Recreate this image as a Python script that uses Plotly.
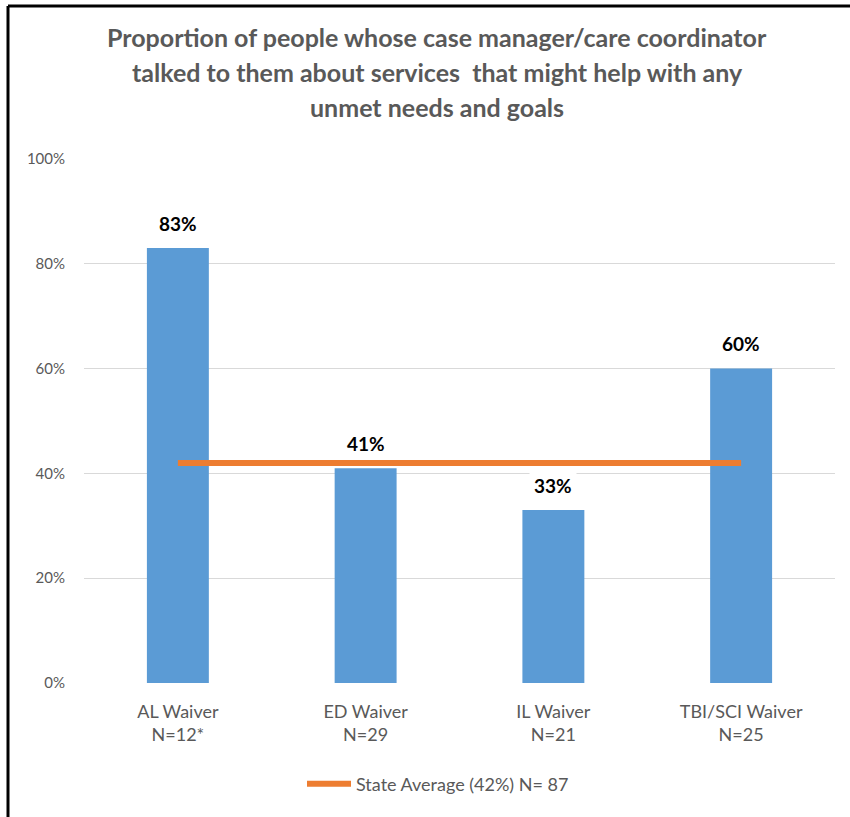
import plotly.graph_objects as go

# Waiver programs and survey results
categories = ["AL Waiver<br>N=12*", "ED Waiver<br>N=29", "IL Waiver<br>N=21", "TBI/SCI Waiver<br>N=25"]
values = [83, 41, 33, 60]
state_avg = 42
state_avg_label = "State Average (42%) N= 87"
y_ticks = [0, 20, 40, 60, 80, 100]
y_tick_labels = ["0%", "20%", "40%", "60%", "80%", "100%"]

title_lines = [
    "Proportion of people whose case manager/care coordinator",
    "talked to them about services  that might help with any",
    "unmet needs and goals",
]

W, H = 850, 817
ML, MR, MT, MB = 84, 15, 159, 134
pw, ph = W - ML - MR, H - MT - MB

fig = go.Figure()

fig.add_trace(go.Bar(
    x=categories, y=values,
    marker=dict(color="#5B9BD5", line=dict(width=0)),
    showlegend=False, hoverinfo="x+y",
))

fig.add_trace(go.Scatter(
    x=categories, y=[state_avg] * len(categories),
    mode="lines", name=state_avg_label,
    line=dict(color="#ED7D31", width=6),
))

# value labels above each bar, on a white box
for c, v in zip(categories, values):
    fig.add_annotation(
        x=c, y=v, text=f"<b>{v}%</b>", showarrow=False,
        yanchor="middle", yshift=25,
        font=dict(family="Lato", size=19, color="#000000"),
        bgcolor="#FFFFFF", borderpad=4,
    )

# chart title, one line per annotation
for i, line in enumerate(title_lines):
    fig.add_annotation(
        xref="paper", yref="paper",
        x=(437 - ML) / pw, y=1 + (MT - (37 + 35 * i)) / ph,
        text=f"<b>{line}</b>", showarrow=False,
        xanchor="center", yanchor="middle",
        font=dict(family="Lato", size=25, color="#595959"),
    )

# frame along top and left edges
x_left = (8 - ML) / pw
x_right = (W + 5 - ML) / pw
y_top = 1 + (MT - 6) / ph
y_bot = -(MB + 10) / ph
fig.add_shape(type="line", xref="paper", yref="paper",
              x0=x_left, x1=x_right, y0=y_top, y1=y_top,
              line=dict(color="#000000", width=3))
fig.add_shape(type="line", xref="paper", yref="paper",
              x0=x_left, x1=x_left, y0=y_top, y1=y_bot,
              line=dict(color="#000000", width=3))

fig.update_layout(
    width=W, height=H,
    margin=dict(l=ML, r=MR, t=MT, b=MB),
    paper_bgcolor="#FFFFFF", plot_bgcolor="#FFFFFF",
    bargap=0.67,
    font=dict(family="Lato", color="#595959"),
    xaxis=dict(
        showgrid=False, zeroline=False, showline=False,
        tickfont=dict(family="Lato", size=18, color="#595959"),
        ticks="", ticklabelstandoff=16,
    ),
    yaxis=dict(
        range=[0, 100], tickvals=y_ticks, ticktext=y_tick_labels,
        showgrid=True, gridcolor="#D9D9D9", gridwidth=1,
        zeroline=False, showline=False,
        tickfont=dict(family="Lato", size=15, color="#595959"),
        ticks="", ticklabelstandoff=18,
    ),
    legend=dict(
        orientation="h", x=(305 - 3) / W, xref="container", xanchor="left",
        y=1 - 784 / H, yref="container", yanchor="middle",
        font=dict(family="Lato", size=18, color="#595959"),
        itemwidth=44,
    ),
    hovermode=False,
)

fig.write_html("out.html")
